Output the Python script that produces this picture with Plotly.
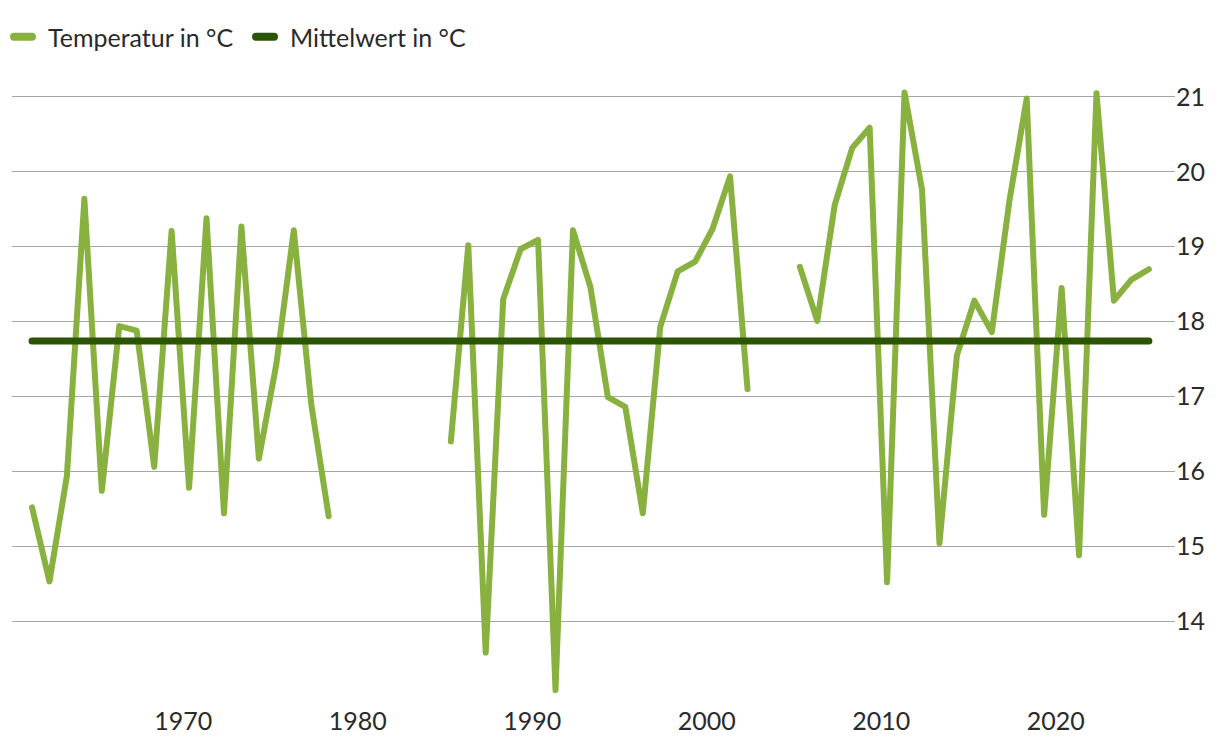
import plotly.graph_objects as go

years = list(range(1961, 2026))
temp_values = {
    1961: 15.52, 1962: 14.53, 1963: 15.94, 1964: 19.64, 1965: 15.74, 1966: 17.94,
    1967: 17.88, 1968: 16.06, 1969: 19.21, 1970: 15.78, 1971: 19.38, 1972: 15.44,
    1973: 19.27, 1974: 16.17, 1975: 17.43, 1976: 19.22, 1977: 16.90, 1978: 15.40,
    1985: 16.40, 1986: 19.02, 1987: 13.58, 1988: 18.30, 1989: 18.97, 1990: 19.09,
    1991: 13.08, 1992: 19.22, 1993: 18.46, 1994: 16.99, 1995: 16.86, 1996: 15.44,
    1997: 17.93, 1998: 18.67, 1999: 18.80, 2000: 19.24, 2001: 19.94, 2002: 17.10,
    2005: 18.73, 2006: 18.01, 2007: 19.56, 2008: 20.32, 2009: 20.59, 2010: 14.52,
    2011: 21.06, 2012: 19.76, 2013: 15.04, 2014: 17.55, 2015: 18.28, 2016: 17.86,
    2017: 19.60, 2018: 20.98, 2019: 15.42, 2020: 18.45, 2021: 14.88, 2022: 21.05,
    2023: 18.28, 2024: 18.56, 2025: 18.70,
}
temperature = [temp_values.get(y) for y in years]
mean_value = 17.74
y_ticks = [14, 15, 16, 17, 18, 19, 20, 21]
x_tick_years = [1970, 1980, 1990, 2000, 2010, 2020]

dates = [f"{y}-05-01" for y in years]
mean_dates = [dates[0], dates[-1]]

LIGHT = "#88B13F"
DARK = "#2B5500"
TEXT = "#2A2A2A"
FONT = "Lato"

fig = go.Figure()
fig.add_trace(go.Scatter(
    x=dates, y=temperature, mode="lines", name="Temperatur in °C",
    line=dict(color=LIGHT, width=6), connectgaps=False,
))
fig.add_trace(go.Scatter(
    x=mean_dates, y=[mean_value, mean_value], mode="lines", name="Mittelwert in °C",
    line=dict(color=DARK, width=7),
))

fig.update_layout(
    width=1220, height=750,
    paper_bgcolor="white", plot_bgcolor="white",
    margin=dict(l=4, r=53, t=74, b=62, autoexpand=False),
    font=dict(family=FONT, size=25, color=TEXT),
    showlegend=True,
    legend=dict(
        orientation="h", xref="container", yref="container",
        x=0.0, xanchor="left", y=1 - 29 / 750, yanchor="middle",
        font=dict(family=FONT, size=25, color=TEXT),
        bgcolor="rgba(0,0,0,0)", itemwidth=30,
        entrywidth=197, entrywidthmode="pixels",
    ),
    xaxis=dict(
        type="date",
        range=["1960-03-08", "2026-10-30"],
        tickvals=[f"{y}-01-01" for y in x_tick_years],
        ticktext=[str(y) for y in x_tick_years],
        showgrid=False, zeroline=False, showline=False,
        ticks="", ticklabelstandoff=8,
        tickfont=dict(family=FONT, size=25, color=TEXT),
    ),
    yaxis=dict(
        side="right", range=[13.0, 21.2],
        tickvals=y_ticks, ticktext=[str(v) for v in y_ticks],
        showgrid=True, gridcolor="#A6A6A6", gridwidth=1.2,
        zeroline=False, showline=False, ticks="",
        tickfont=dict(family=FONT, size=25, color=TEXT),
    ),
)

round_js = """
var gd = document.getElementById('{plot_id}');
function roundLines() {
  gd.querySelectorAll('.scatterlayer path.js-line').forEach(function(p) {
    p.style.strokeLinejoin = 'round';
    p.style.strokeLinecap = 'round';
  });
  gd.querySelectorAll('.legend path.js-line').forEach(function(p) {
    p.setAttribute('d', 'M6,0h18');
    p.style.strokeLinecap = 'round';
    p.style.strokeWidth = '8px';
  });
}
roundLines();
gd.on('plotly_afterplot', roundLines);
"""

fig.write_html("out.html", post_script=round_js)
